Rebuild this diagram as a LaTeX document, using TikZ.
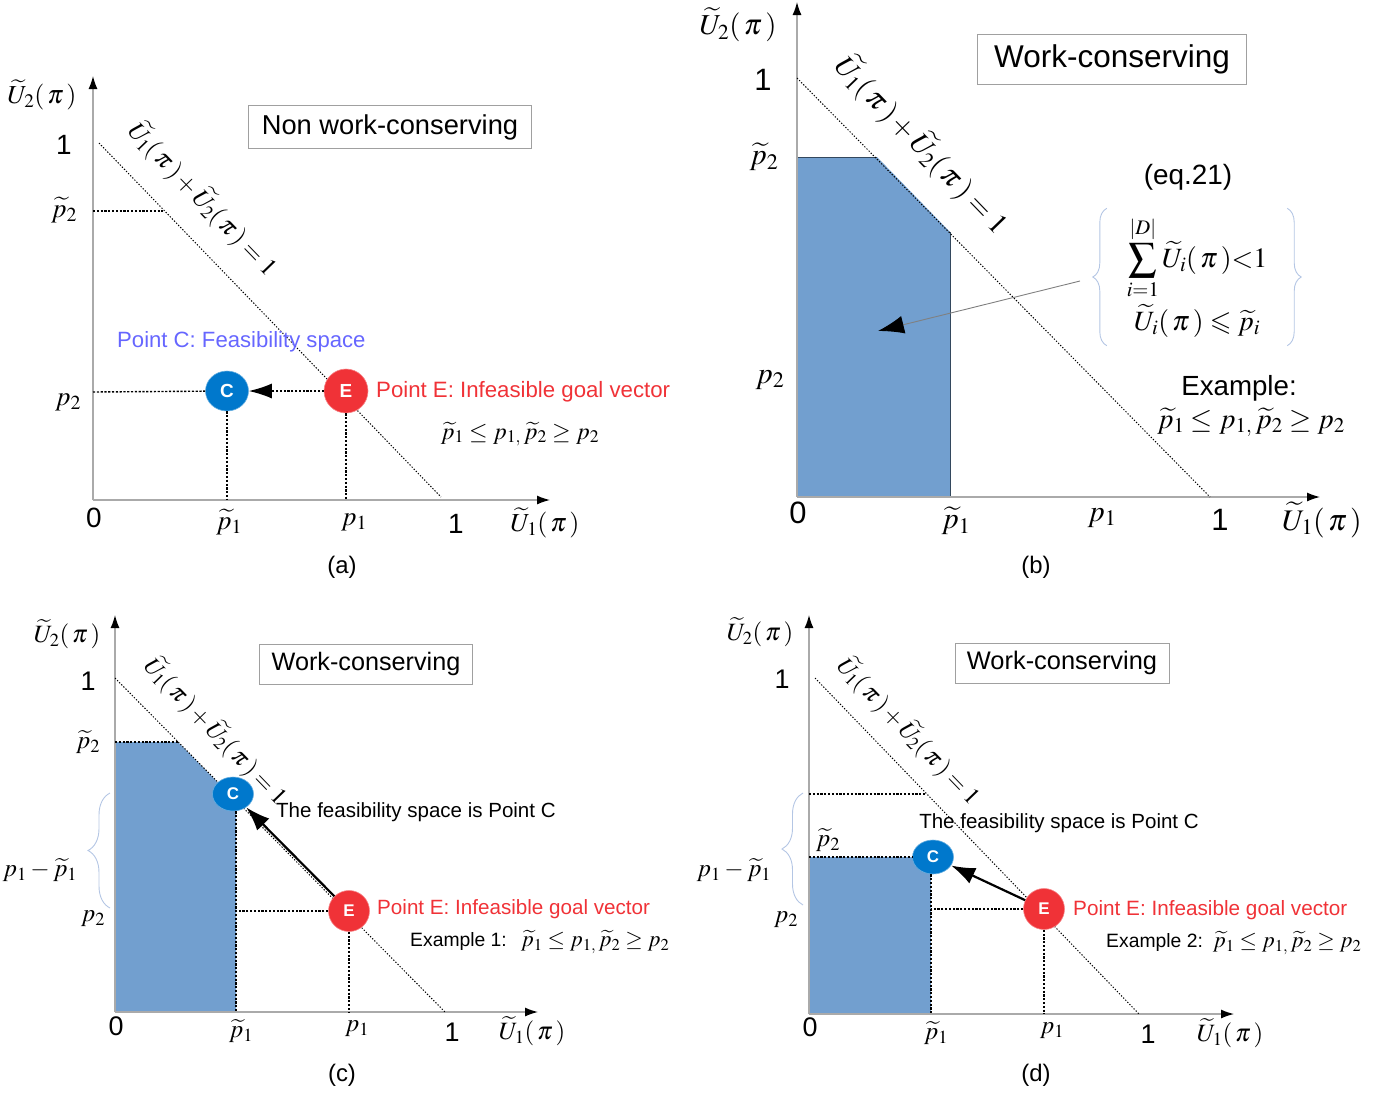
\documentclass[tikz,border=0pt]{standalone}
\usepackage{mathptmx}
\usepackage{amssymb}
\usepackage[no-math]{fontspec}
\setmainfont{Liberation Sans}
\usetikzlibrary{arrows.meta, shapes.geometric, decorations.pathreplacing}
\definecolor{axisgray}{RGB}{170,170,170}
\definecolor{pointblue}{RGB}{0,120,204}
\definecolor{pointred}{RGB}{240,50,55}
\definecolor{feasblue}{RGB}{114,159,207}
\definecolor{labelblue}{RGB}{102,102,255}
\definecolor{bracegray}{RGB}{180,198,228}
\definecolor{boxgray}{RGB}{160,160,160}
\newcommand{\fsz}[1]{\fontsize{#1}{#1}\selectfont}
\newcommand{\Ut}[1]{\widetilde{U}_{#1}(\,\pi\,)}
\newcommand{\ptl}[1]{\widetilde{p}_{#1}}
\newcommand{\goalineq}{$\ptl{1}\leq p_{1,}\,\ptl{2}\geq p_2$}
\newcommand{\sumeq}{$\Ut{1}+\Ut{2}=1$}
\tikzset{
  axis/.style={draw=axisgray, line width=1.3bp, -{Latex[color=black,length=13bp,width=9bp]}},
  sumline/.style={line width=1bp, dash pattern=on 1.3bp off 1.7bp},
  guide/.style={line width=1.4bp, dash pattern=on 2.2bp off 1.6bp},
  titlebox/.style={draw=boxgray, line width=1bp, inner sep=0pt},
  ptC/.style={ellipse, fill=pointblue, draw=pointblue!60!white, line width=0.6bp, text=white,
    font=\fsz{19}\bfseries, inner sep=0pt, minimum width=43bp, minimum height=40bp},
  ptE/.style={ellipse, fill=pointred, draw=pointred!60!white, line width=0.6bp, text=white,
    font=\fsz{19}\bfseries, inner sep=0pt, minimum width=44bp, minimum height=44bp},
  reach/.style={line width=2.2bp, -{Latex[length=24bp,width=17bp]}},
  pointer/.style={draw=gray, line width=0.9bp, -{Latex[color=black,length=26bp,width=18bp]}},
  bracket/.style={draw=bracegray, line width=0.9bp, decorate, decoration={brace, amplitude=14bp}},
  feasible/.style={fill=feasblue},
  feasedge/.style={draw=feasblue!45!black, line width=1bp},
  tick/.style={inner sep=0pt}
}

\begin{document}
\begin{tikzpicture}[x=1bp, y=-1bp]
    \useasboundingbox (0,0) rectangle (1390,1097);

    %% ===== (a) Non work-conserving =====
    % Axes
    \coordinate (a-o) at (93,500);
    \coordinate (a-y) at (93,76);
    \coordinate (a-x) at (550,500);
    \draw[axis] (a-o) -- (a-y);
    \draw[axis] (a-o) -- (a-x);

    % Sum line
    \coordinate (a-s1) at (99,143);
    \coordinate (a-s2) at (441,497);
    \draw[sumline] (a-s1) -- (a-s2);
    \node[tick, font=\fsz{25}, rotate=-46] (a-sum) at (203,199) {\sumeq};

    % Points C and E
    \node[ptC] (a-C) at (227,391) {C};
    \node[ptE] (a-E) at (346,391) {E};

    % Guides
    \coordinate (a-pt2) at (93,211);
    \coordinate (a-pt2e) at (163,211);
    \coordinate (a-p2) at (93,392);
    \draw[guide] (a-pt2) -- (a-pt2e);
    \draw[guide] (a-p2) -- (a-C);
    \draw[guide] (a-C) -- (a-C |- a-o);
    \draw[guide] (a-E) -- (a-E |- a-o);
    \draw[guide, -{Latex[length=23bp,width=15bp]}] (a-E) -- (a-C);

    % Labels
    \node[titlebox, minimum width=283bp, minimum height=43bp, font=\fsz{27.4}] (a-title) at (390,127) {Non work-conserving};
    \node[tick, font=\fsz{26}] (a-u2) at (42,95) {$\Ut{2}$};
    \node[tick, font=\fsz{28}] (a-one2) at (64,145) {1};
    \node[tick, font=\fsz{27}] (a-lpt2) at (64,210) {$\ptl{2}$};
    \node[tick, font=\fsz{27}] (a-lp2) at (68,402) {$p_2$};
    \node[tick, font=\fsz{28}] (a-zero) at (94,518) {0};
    \node[tick, font=\fsz{27}] (a-lpt1) at (229,522) {$\ptl{1}$};
    \node[tick, font=\fsz{27}] (a-lp1) at (354,522) {$p_1$};
    \node[tick, font=\fsz{28}] (a-one1) at (456,524) {1};
    \node[tick, font=\fsz{26}] (a-u1) at (545,523) {$\Ut{1}$};
    \node[tick, font=\fsz{24}] (a-cap) at (342,567) {(a)};
    \node[tick, anchor=west, text=labelblue, font=\fsz{22.2}] (a-ctext) at (117,342) {Point C: Feasibility space};
    \node[tick, anchor=west, text=pointred, font=\fsz{22.3}] (a-etext) at (376,392) {Point E: Infeasible goal vector};
    \node[tick, font=\fsz{24}] (a-ineq) at (520,434) {\goalineq};

    %% ===== (b) Work-conserving =====
    % Axes
    \coordinate (b-o) at (797,497);
    \coordinate (b-y) at (797,2);
    \coordinate (b-x) at (1320,497);

    % Feasible region
    \coordinate (b-f1) at (797,157);
    \coordinate (b-f2) at (877,157);
    \coordinate (b-f3) at (950,232);
    \coordinate (b-f4) at (950,497);
    \fill[feasible] (b-f1) -- (b-f2) -- (b-f3) -- (b-f4) -- (b-o) -- cycle;
    \draw[feasedge] (b-f1) -- (b-f2);
    \draw[feasedge] (b-f3) -- (b-f4);
    \draw[axis] (b-o) -- (b-y);
    \draw[axis] (b-o) -- (b-x);

    % Sum line
    \coordinate (b-s1) at (797,78);
    \coordinate (b-s2) at (1210,497);
    \draw[sumline] (b-s1) -- (b-s2);
    \node[tick, font=\fsz{29}, rotate=-46] (b-sum) at (922,145) {\sumeq};

    % Constraint system
    \node[tick, font=\fsz{28}] (b-eqno) at (1188,177) {(eq.21)};
    \node[inner sep=0pt, minimum width=180bp, minimum height=137bp, align=center, font=\fsz{28}] (b-eq) at (1197,277)
        {$\displaystyle\sum_{i=1}^{|D|}\Ut{i}{<}1$\\[4bp] $\Ut{i}\leqslant\ptl{i}$};
    \draw[bracket] (b-eq.south west) -- (b-eq.north west);
    \draw[bracket] (b-eq.north east) -- (b-eq.south east);
    \coordinate (b-src) at (1080,281);
    \coordinate (b-tgt) at (878,331);
    \draw[pointer] (b-src) -- (b-tgt);

    % Labels
    \node[titlebox, minimum width=269bp, minimum height=50bp, font=\fsz{31.6}] (b-title) at (1112,59) {Work-conserving};
    \node[tick, font=\fsz{29}] (b-u2) at (738,25) {$\Ut{2}$};
    \node[tick, font=\fsz{31}] (b-one2) at (763,80) {1};
    \node[tick, font=\fsz{30}] (b-lpt2) at (764,157) {$\ptl{2}$};
    \node[tick, font=\fsz{30}] (b-lp2) at (770,380) {$p_2$};
    \node[tick, font=\fsz{31}] (b-zero) at (798,513) {0};
    \node[tick, font=\fsz{30}] (b-lpt1) at (956,521) {$\ptl{1}$};
    \node[tick, font=\fsz{30}] (b-lp1) at (1102,518) {$p_1$};
    \node[tick, font=\fsz{31}] (b-one1) at (1220,520) {1};
    \node[tick, font=\fsz{30}] (b-u1) at (1322,520) {$\Ut{1}$};
    \node[tick, font=\fsz{24}] (b-cap) at (1036,567) {(b)};
    \node[tick, font=\fsz{27.8}] (b-ex) at (1239,388) {Example:};
    \node[tick, font=\fsz{28.5}] (b-ineq) at (1251,422) {\goalineq};

    %% ===== (c) Work-conserving, example 1 =====
    % Axes
    \coordinate (c-o) at (115,1012);
    \coordinate (c-y) at (115,615);
    \coordinate (c-x) at (538,1012);

    % Feasible region
    \coordinate (c-f1) at (115,742);
    \coordinate (c-f2) at (178,742);
    \coordinate (c-f3) at (236,801);
    \coordinate (c-f4) at (236,1012);
    \fill[feasible] (c-f1) -- (c-f2) -- (c-f3) -- (c-f4) -- (c-o) -- cycle;
    \draw[axis] (c-o) -- (c-y);
    \draw[axis] (c-o) -- (c-x);

    % Sum line
    \coordinate (c-s1) at (115,678);
    \coordinate (c-s2) at (445,1012);
    \draw[sumline] (c-s1) -- (c-s2);
    \node[tick, font=\fsz{24}, rotate=-46] (c-sum) at (216,731) {\sumeq};

    % Points C and E
    \node[ptC, minimum width=41bp, minimum height=34bp, font=\fsz{17}\bfseries] (c-C) at (233,794) {C};
    \node[ptE, minimum width=41bp, minimum height=41bp, font=\fsz{17}\bfseries] (c-E) at (349,911) {E};

    % Guides
    \draw[guide] (c-f1) -- (c-f2);
    \draw[guide] (c-C.south -| c-f4) -- (c-f4);
    \draw[guide] (c-E) -- (c-E -| c-f4);
    \draw[guide] (c-E) -- (c-E |- c-o);
    \draw[reach] (c-E) -- (c-C);
    \coordinate (c-b1) at (110,908);
    \coordinate (c-b2) at (110,793);
    \draw[bracket, decoration={amplitude=22bp}] (c-b1) -- (c-b2);

    % Labels
    \node[titlebox, minimum width=213bp, minimum height=40bp, font=\fsz{25.3}] (c-title) at (366,664) {Work-conserving};
    \node[tick, font=\fsz{25}] (c-u2) at (67,634) {$\Ut{2}$};
    \node[tick, font=\fsz{27}] (c-one2) at (88,681) {1};
    \node[tick, font=\fsz{25}] (c-lpt2) at (88,742) {$\ptl{2}$};
    \node[tick, font=\fsz{25}] (c-lgap) at (40,870) {$p_1-\ptl{1}$};
    \node[tick, font=\fsz{25}] (c-lp2) at (93,919) {$p_2$};
    \node[tick, font=\fsz{27}] (c-zero) at (116,1026) {0};
    \node[tick, font=\fsz{25}] (c-lpt1) at (241,1031) {$\ptl{1}$};
    \node[tick, font=\fsz{25}] (c-lp1) at (357,1029) {$p_1$};
    \node[tick, font=\fsz{27}] (c-one1) at (452,1032) {1};
    \node[tick, font=\fsz{25}] (c-u1) at (532,1031) {$\Ut{1}$};
    \node[tick, font=\fsz{24}] (c-cap) at (342,1075) {(c)};
    \node[tick, anchor=west, font=\fsz{20.6}] (c-ctext) at (276,812) {The feasibility space is Point C};
    \node[tick, anchor=west, text=pointred, font=\fsz{20.7}] (c-etext) at (377,909) {Point E: Infeasible goal vector};
    \node[tick, anchor=west, font=\fsz{19.4}] (c-ex) at (410,942) {Example 1:\hspace{14bp}{\fsz{22.5}\goalineq}};

    %% ===== (d) Work-conserving, example 2 =====
    % Axes
    \coordinate (d-o) at (809,1014);
    \coordinate (d-y) at (809,615);
    \coordinate (d-x) at (1234,1014);

    % Feasible region
    \coordinate (d-f1) at (809,857);
    \coordinate (d-f4) at (931,1014);
    \fill[feasible] (d-f1) rectangle (d-f4);
    \draw[axis] (d-o) -- (d-y);
    \draw[axis] (d-o) -- (d-x);

    % Sum line
    \coordinate (d-s1) at (815,678);
    \coordinate (d-s2) at (1139,1014);
    \draw[sumline] (d-s1) -- (d-s2);
    \node[tick, font=\fsz{24}, rotate=-46] (d-sum) at (909,731) {\sumeq};

    % Points C and E
    \node[ptC, minimum width=41bp, minimum height=34bp, font=\fsz{17}\bfseries] (d-C) at (933,857) {C};
    \node[ptE, minimum width=41bp, minimum height=41bp, font=\fsz{17}\bfseries] (d-E) at (1044,909) {E};

    % Guides
    \coordinate (d-g1) at (809,794);
    \coordinate (d-g2) at (926,794);
    \draw[guide] (d-g1) -- (d-g2);
    \draw[guide] (d-f1) -- (d-C);
    \draw[guide] (d-C.south -| d-f4) -- (d-f4);
    \draw[guide] (d-E) -- (d-E -| d-f4);
    \draw[guide] (d-E) -- (d-E |- d-o);
    \draw[reach] (d-E) -- (d-C);
    \coordinate (d-b1) at (803,905);
    \coordinate (d-b2) at (803,793);
    \draw[bracket, decoration={amplitude=21bp}] (d-b1) -- (d-b2);

    % Labels
    \node[titlebox, minimum width=214bp, minimum height=40bp, font=\fsz{25.5}] (d-title) at (1062,663) {Work-conserving};
    \node[tick, font=\fsz{25}] (d-u2) at (760,632) {$\Ut{2}$};
    \node[tick, font=\fsz{27}] (d-one2) at (782,679) {1};
    \node[tick, font=\fsz{25}] (d-lpt2) at (828,840) {$\ptl{2}$};
    \node[tick, font=\fsz{25}] (d-lgap) at (734,870) {$p_1-\ptl{1}$};
    \node[tick, font=\fsz{25}] (d-lp2) at (786,920) {$p_2$};
    \node[tick, font=\fsz{27}] (d-zero) at (810,1027) {0};
    \node[tick, font=\fsz{25}] (d-lpt1) at (936,1033) {$\ptl{1}$};
    \node[tick, font=\fsz{25}] (d-lp1) at (1052,1031) {$p_1$};
    \node[tick, font=\fsz{27}] (d-one1) at (1148,1034) {1};
    \node[tick, font=\fsz{25}] (d-u1) at (1230,1033) {$\Ut{1}$};
    \node[tick, font=\fsz{24}] (d-cap) at (1036,1075) {(d)};
    \node[tick, font=\fsz{20.6}] (d-ctext) at (1059,823) {The feasibility space is Point C};
    \node[tick, anchor=west, text=pointred, font=\fsz{20.8}] (d-etext) at (1073,910) {Point E: Infeasible goal vector};
    \node[tick, anchor=west, font=\fsz{19.4}] (d-ex) at (1106,943) {Example 2:\hspace{10bp}{\fsz{22.5}\goalineq}};
\end{tikzpicture}
\end{document}
